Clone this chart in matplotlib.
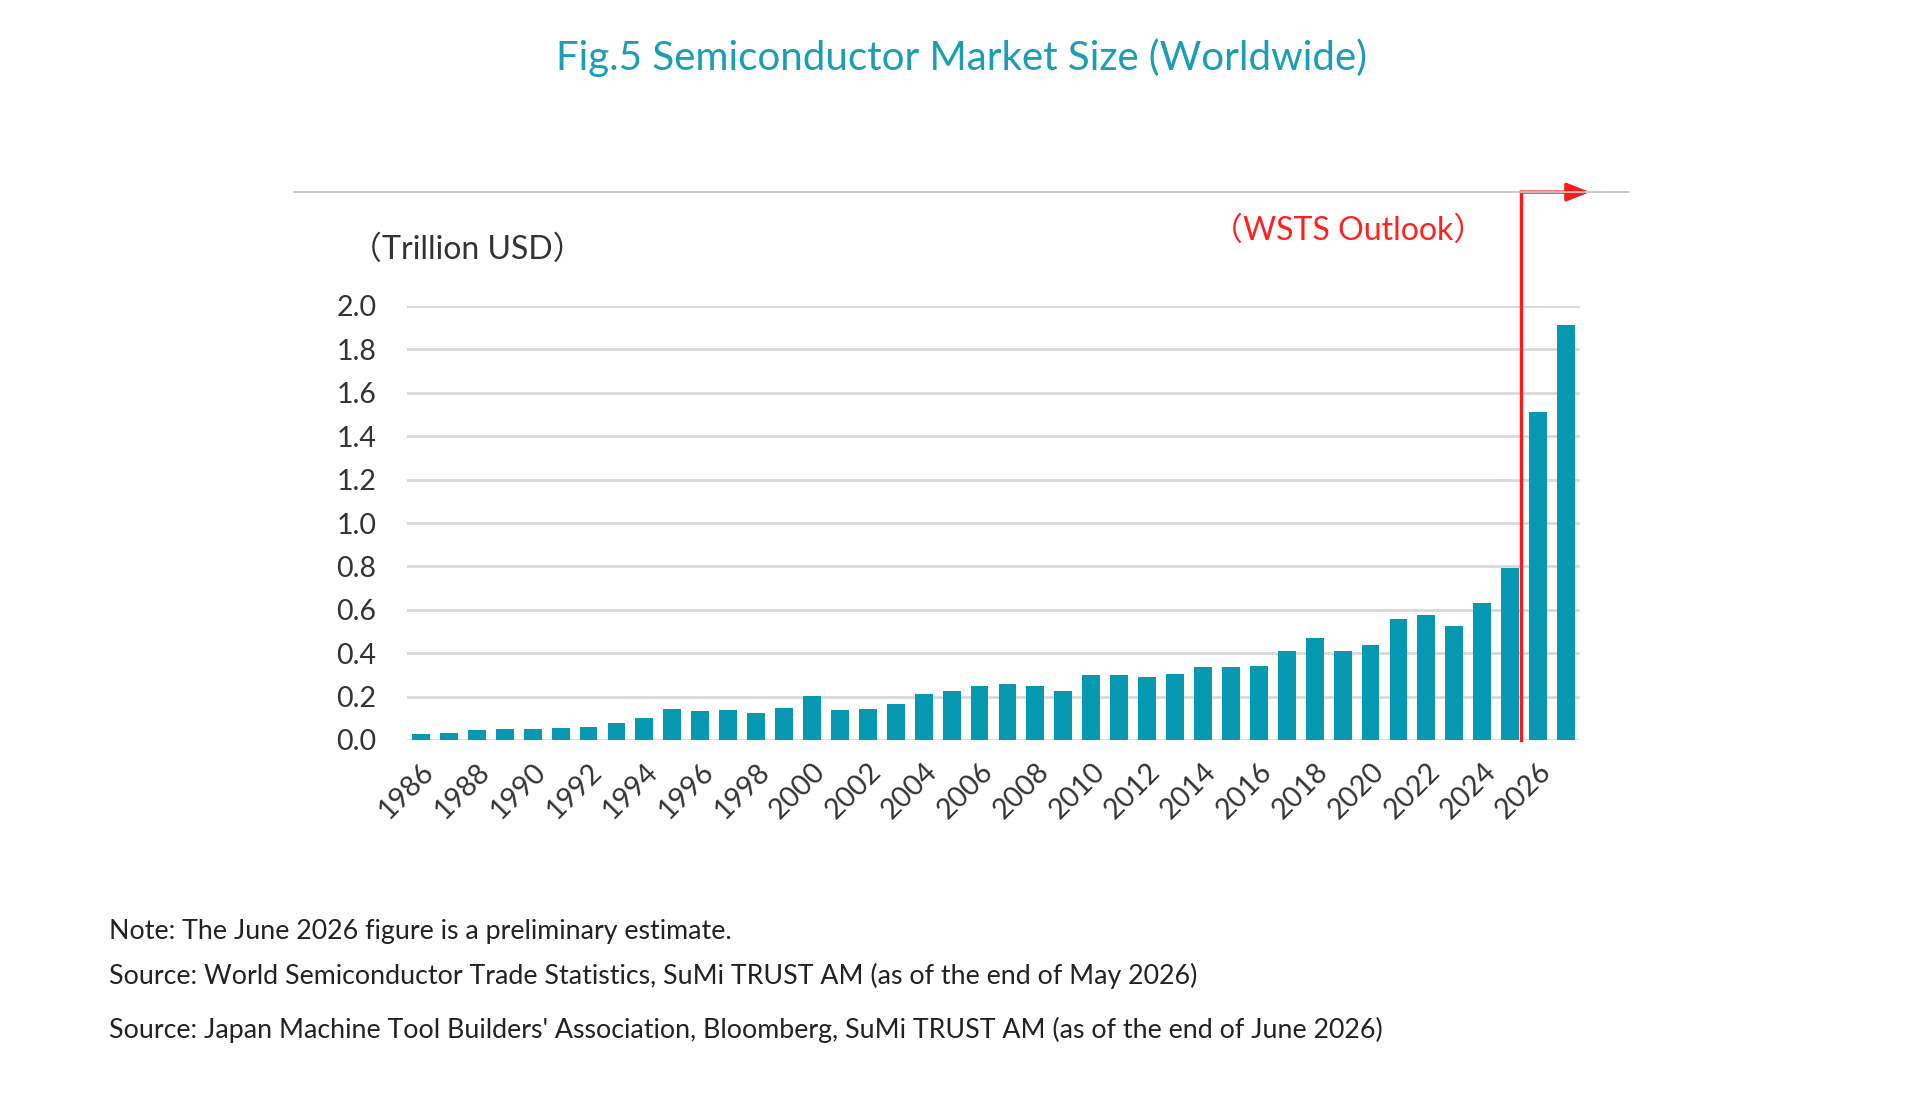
import numpy as np
import matplotlib.pyplot as plt

plt.rcParams['font.family'] = ['Lato', 'Noto Sans CJK JP', 'DejaVu Sans']

years = list(range(1986, 2028))
market = [0.026, 0.033, 0.046, 0.051, 0.050, 0.055, 0.060, 0.077, 0.102, 0.144,
          0.132, 0.137, 0.126, 0.149, 0.204, 0.139, 0.141, 0.166, 0.213, 0.227,
          0.248, 0.256, 0.249, 0.226, 0.298, 0.300, 0.292, 0.306, 0.336, 0.335,
          0.339, 0.412, 0.469, 0.412, 0.440, 0.556, 0.574, 0.527, 0.631, 0.792,
          1.510, 1.912]
tick_years = [str(y) for y in range(1986, 2027, 2)]
y_ticks = [0.0, 0.2, 0.4, 0.6, 0.8, 1.0, 1.2, 1.4, 1.6, 1.8, 2.0]

W, H = 1920, 1108
fig = plt.figure(figsize=(W / 100, H / 100), dpi=100)
fig.patch.set_facecolor('white')

teal = '#0799b1'
text_col = '#333333'


def px(x, y):
    return x / W, 1 - y / H


ax = fig.add_axes([407 / W, (H - 740) / H, 1173 / W, 434 / H])
x = np.arange(len(years))
ax.bar(x, market, width=0.64, color=teal, zorder=3)

ax.set_xlim(-0.5, len(years) - 0.5)
ax.set_ylim(0, 2.0)
ax.set_yticks(y_ticks)
ax.set_yticklabels([f'{v:.1f}' for v in y_ticks])
ax.set_xticks(x[::2])
ax.set_xticklabels(tick_years, rotation=45, ha='right', rotation_mode='anchor')
ax.tick_params(axis='both', length=0, labelsize=20.5, labelcolor=text_col)
ax.tick_params(axis='y', pad=22)
ax.tick_params(axis='x', pad=13)
ax.grid(axis='y', color='#d9d9d9', linewidth=2, zorder=0)
ax.set_axisbelow(True)
for s in ax.spines.values():
    s.set_visible(False)

# outlook marker
split = 39.37
top_y = 2.525
ax.plot([split, split], [0, top_y], color='#ff1a1a', lw=2.4, clip_on=False,
        solid_capstyle='projecting', zorder=5)
ax.annotate('', xy=(41.85, top_y), xytext=(split, top_y),
            arrowprops=dict(arrowstyle='-|>,head_length=0.7,head_width=0.28',
                            mutation_scale=20, color='#ff1a1a', lw=2.4,
                            shrinkA=0, shrinkB=0),
            annotation_clip=False, zorder=5)

# top rule
fig.add_artist(plt.Line2D([294 / W, 1629 / W], [1 - 192 / H, 1 - 192 / H],
                          color='#c8c8c8', lw=1.3, zorder=1))

fig.text(*px(961, 58), 'Fig.5 Semiconductor Market Size (Worldwide)',
         ha='center', va='center', fontsize=29, color='#1a9db5')
fig.text(*px(350, 250), '（Trillion USD）', ha='left', va='center',
         fontsize=23, color=text_col)
fig.text(*px(1348, 231), '（WSTS Outlook）', ha='center', va='center',
         fontsize=23, color='#ff2020')

notes = ['Note: The June 2026 figure is a preliminary estimate.',
         'Source: World Semiconductor Trade Statistics, SuMi TRUST AM (as of the end of May 2026)',
         "Source: Japan Machine Tool Builders' Association, Bloomberg, SuMi TRUST AM (as of the end of June 2026)"]
for txt, yy in zip(notes, [932, 976, 1030]):
    fig.text(*px(109, yy), txt, ha='left', va='center', fontsize=19.3, color='#222222')

fig.savefig('out.png', dpi=100)
